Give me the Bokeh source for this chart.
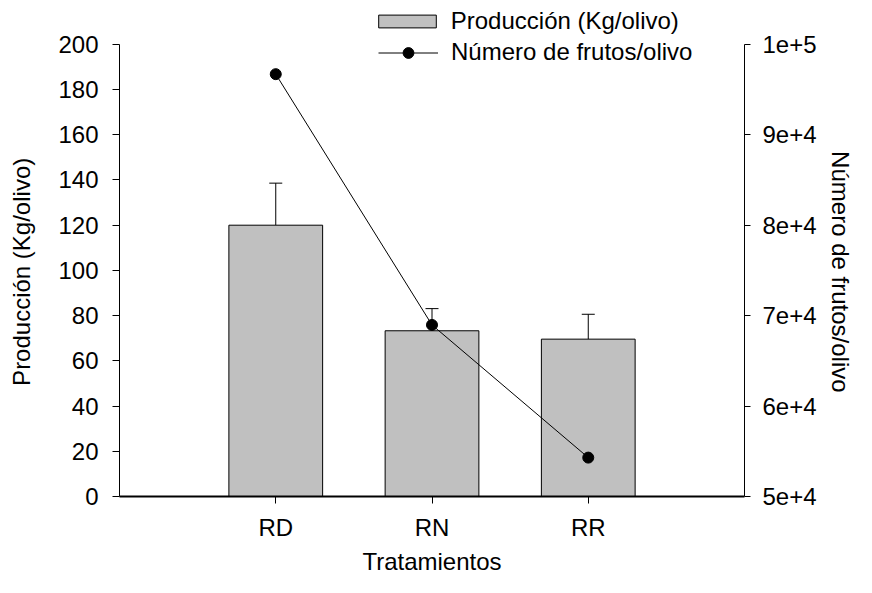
from bokeh.plotting import figure
from bokeh.models import (Range1d, LinearAxis, FixedTicker, ColumnDataSource, Whisker,
                          TeeHead, Legend, LegendItem)
from bokeh.embed import file_html
from bokeh.resources import INLINE

categories = ["RD", "RN", "RR"]
produccion = [120.0, 73.3, 69.6]
produccion_err = [18.6, 9.8, 11.0]
frutos = [96700, 68970, 54300]

left_ticks = [0, 20, 40, 60, 80, 100, 120, 140, 160, 180, 200]
right_ticks = [50000, 60000, 70000, 80000, 90000, 100000]
right_tick_labels = ["5e+4", "6e+4", "7e+4", "8e+4", "9e+4", "1e+5"]

FONT = "Liberation Sans"
FS = "24px"
NB = "\u00a0"

# frame extends to the canvas top (room for the legend); axes are bounded to data span
FRAME_H = 498
AXIS_H = 454
left_lo, left_hi = 0, 200
right_lo, right_hi = 50000, 100000
left_top = left_lo + (left_hi - left_lo) * FRAME_H / AXIS_H
right_top = right_lo + (right_hi - right_lo) * FRAME_H / AXIS_H

xpos = [i + 1 for i in range(len(categories))]
src = ColumnDataSource(dict(
    x=xpos,
    prod=produccion,
    upper=[p + e for p, e in zip(produccion, produccion_err)],
    frutos=frutos,
))

p = figure(width=856, height=577, output_backend="svg", toolbar_location=None,
           x_range=Range1d(0, 4), y_range=Range1d(left_lo, left_top),
           min_border_left=119, min_border_right=108, min_border_top=0, min_border_bottom=79)
p.outline_line_color = None
p.grid.visible = False
p.background_fill_color = "white"

p.extra_y_ranges = {"right": Range1d(right_lo, right_top)}

bars = p.vbar(x="x", top="prod", bottom=0, width=0.6, source=src,
              fill_color="#c0c0c0", line_color="black", line_width=1)

wh = Whisker(base="x", lower="prod", upper="upper", source=src,
             line_color="black", line_width=1,
             upper_head=TeeHead(size=13, line_color="black", line_width=1),
             lower_head=None)
p.add_layout(wh)

ln = p.line(x="x", y="frutos", source=src, y_range_name="right",
            line_color="black", line_width=1)
sc = p.scatter(x="x", y="frutos", source=src, y_range_name="right",
               size=11, fill_color="black", line_color="black")

def style_axis(ax):
    ax.axis_line_color = "black"
    ax.major_tick_line_color = "black"
    ax.minor_tick_line_color = None
    ax.major_tick_in = 0
    ax.major_tick_out = 7
    ax.major_label_text_font = FONT
    ax.major_label_text_font_size = FS
    ax.major_label_text_color = "black"
    ax.axis_label_text_font = FONT
    ax.axis_label_text_font_size = FS
    ax.axis_label_text_font_style = "normal"
    ax.axis_label_text_color = "black"

# bottom axis
xa = p.xaxis[0]
style_axis(xa)
xa.ticker = FixedTicker(ticks=xpos)
xa.major_label_overrides = {x: c for x, c in zip(xpos, categories)}
xa.axis_label = "Tratamientos"
xa.major_label_standoff = 10
xa.axis_label_standoff = 4
xa.axis_line_width = 2

# left axis (label padded so that it centres on the bounded axis span)
ya = p.yaxis[0]
style_axis(ya)
ya.bounds = (left_lo, left_hi)
ya.ticker = FixedTicker(ticks=left_ticks)
ya.axis_label = "Producción (Kg/olivo)" + NB * 7
ya.major_label_standoff = 14
ya.axis_label_standoff = 20

# right axis (label padded at its start so that it centres on the bounded span)
ra = LinearAxis(y_range_name="right", bounds=(right_lo, right_hi))
style_axis(ra)
ra.ticker = FixedTicker(ticks=right_ticks)
ra.major_label_overrides = {t: l for t, l in zip(right_ticks, right_tick_labels)}
ra.axis_label = NB * 7 + "Número de frutos/olivo"
ra.major_label_standoff = 12
ra.axis_label_standoff = 7
ra.major_tick_out = 6
p.add_layout(ra, "right")

def style_legend(lg):
    lg.label_text_font = FONT
    lg.label_text_font_size = FS
    lg.label_text_color = "black"
    lg.padding = 0
    lg.margin = 0
    lg.spacing = 0
    lg.border_line_color = None
    lg.background_fill_alpha = 0

legend1 = Legend(items=[LegendItem(label="Producción (Kg/olivo)", renderers=[bars])],
                 location=(251.75, 461.5))
style_legend(legend1)
legend1.glyph_width = 72
legend1.glyph_height = 16
legend1.label_height = 16
legend1.label_standoff = 8
p.add_layout(legend1, "center")

legend2 = Legend(items=[LegendItem(label="Número de frutos/olivo", renderers=[ln, sc])],
                 location=(259, 430))
style_legend(legend2)
legend2.glyph_width = 60
legend2.glyph_height = 27
legend2.label_height = 16
legend2.label_standoff = 13
p.add_layout(legend2, "center")

open("out.html", "w").write(file_html(p, INLINE))
